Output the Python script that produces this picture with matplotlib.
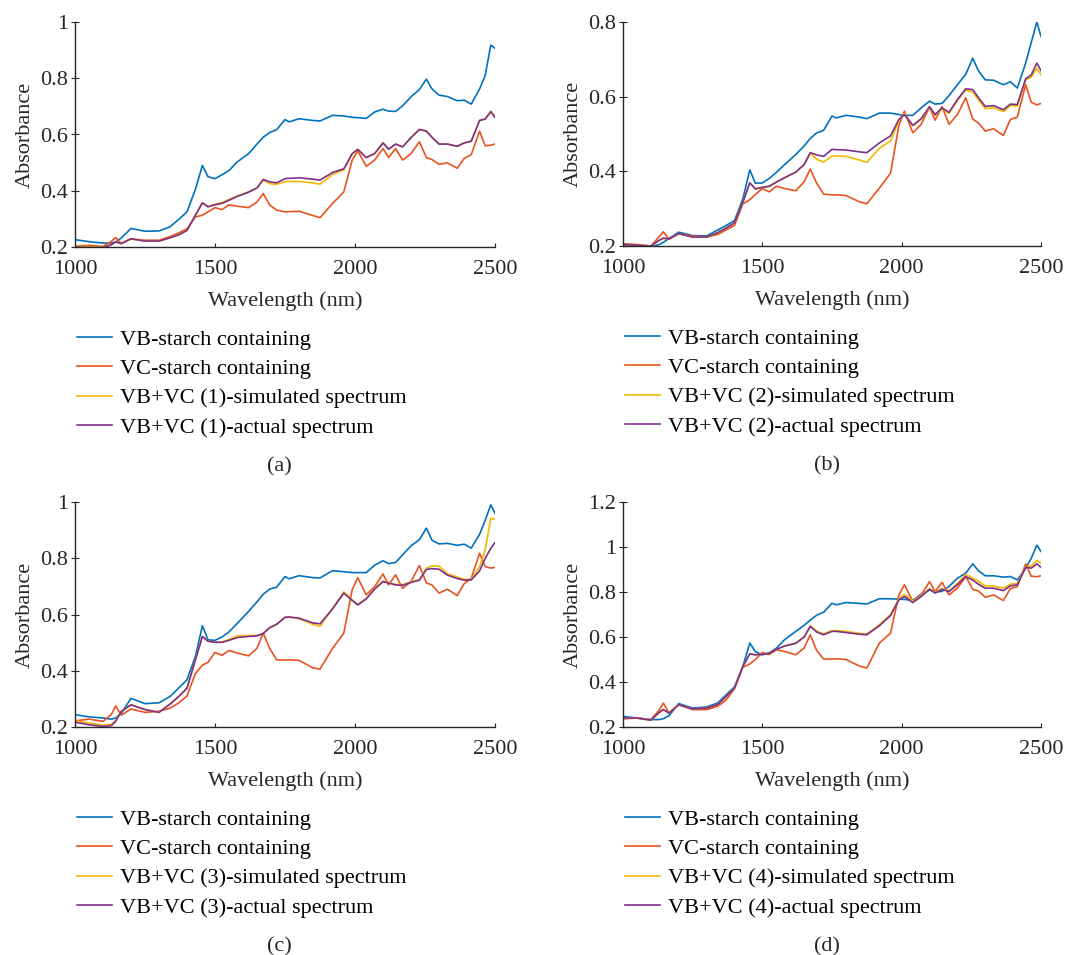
import numpy as np
import matplotlib.pyplot as plt

plt.rcParams['font.family'] = ['Liberation Serif', 'DejaVu Serif']

# common wavelength grid (nm)
wl = [1000, 1050, 1100, 1130, 1145, 1165, 1200, 1250, 1300, 1340, 1370, 1400,
      1430, 1455, 1475, 1500, 1525, 1550, 1580, 1620, 1650, 1672, 1695, 1720,
      1750, 1765, 1800, 1850, 1875, 1920, 1960, 1990, 2010, 2040, 2070, 2100,
      2120, 2145, 2170, 2200, 2230, 2255, 2275, 2300, 2330, 2365, 2390, 2415,
      2445, 2465, 2485, 2500]

# ---- panel (a)
vb_a = [.226, .219, .214, .214, .218, .232, .266, .256, .257, .272, .298, .325,
        .405, .490, .450, .443, .457, .472, .503, .532, .566, .590, .607, .617,
        .653, .645, .656, .650, .648, .668, .666, .661, .660, .657, .680, .690,
        .683, .682, .702, .734, .760, .797, .762, .740, .735, .720, .722, .708,
        .762, .810, .918, .906]
vc_a = [.204, .206, .202, .220, .234, .213, .229, .224, .224, .237, .250, .265,
        .307, .313, .325, .340, .333, .350, .345, .340, .360, .390, .350, .331,
        .325, .326, .327, .312, .304, .355, .396, .509, .542, .487, .509, .550,
        .518, .550, .509, .532, .574, .518, .511, .494, .499, .480, .515, .528,
        .612, .560, .562, .566]
sim_a = [.203, .201, .199, .208, .218, .212, .229, .221, .221, .233, .243, .259,
         .313, .357, .343, .352, .358, .369, .382, .396, .410, .438, .425, .423,
         .432, .433, .433, .428, .423, .458, .474, .532, .547, .518, .532, .570,
         .548, .566, .556, .589, .618, .612, .590, .566, .566, .558, .570, .576,
         .650, .655, .683, .665]
act_a = [.200, .198, .198, .208, .218, .212, .229, .221, .221, .233, .243, .259,
         .313, .357, .343, .350, .355, .366, .380, .395, .410, .440, .432, .428,
         .443, .444, .446, .441, .438, .465, .478, .532, .547, .518, .532, .570,
         .548, .566, .556, .589, .618, .612, .590, .566, .566, .558, .570, .576,
         .650, .655, .681, .661]

# ---- panel (b)
vb_b = [.202, .200, .197, .204, .210, .220, .237, .228, .227, .243, .255, .268,
        .326, .404, .368, .369, .381, .397, .418, .445, .468, .488, .503, .510,
        .548, .543, .550, .545, .541, .556, .556, .552, .550, .550, .570, .588,
        .580, .582, .603, .632, .660, .703, .670, .645, .644, .632, .640, .623,
        .690, .745, .800, .761]
vc_b = [.206, .204, .200, .225, .238, .218, .233, .227, .224, .231, .243, .255,
        .313, .324, .338, .354, .345, .360, .354, .348, .372, .406, .368, .339,
        .337, .337, .335, .318, .313, .355, .395, .523, .561, .503, .526, .572,
        .537, .573, .526, .552, .597, .540, .530, .508, .514, .496, .539, .545,
        .632, .585, .578, .582]
sim_b = [.204, .202, .200, .215, .221, .219, .233, .224, .224, .236, .248, .262,
         .317, .369, .353, .357, .360, .371, .383, .398, .418, .448, .432, .425,
         .441, .441, .440, .430, .424, .462, .481, .535, .555, .522, .540, .572,
         .550, .568, .555, .590, .618, .612, .592, .568, .570, .560, .576, .575,
         .645, .652, .676, .659]
act_b = [.204, .202, .200, .215, .221, .219, .233, .224, .224, .236, .248, .262,
         .317, .369, .353, .357, .360, .371, .383, .398, .418, .450, .444, .440,
         .459, .458, .457, .452, .450, .476, .495, .539, .552, .523, .541, .573,
         .552, .570, .558, .592, .621, .619, .598, .574, .576, .565, .580, .579,
         .648, .658, .690, .670]

# ---- panel (c)
vb_c = [.244, .236, .232, .228, .232, .248, .302, .283, .286, .309, .338, .368,
        .451, .560, .510, .508, .520, .538, .569, .611, .645, .672, .690, .697,
        .735, .727, .738, .731, .730, .756, .752, .749, .749, .749, .775, .791,
        .781, .785, .812, .844, .866, .907, .864, .851, .853, .846, .850, .836,
        .885, .935, .990, .960]
vc_c = [.222, .228, .220, .245, .275, .242, .264, .252, .256, .267, .285, .310,
        .390, .420, .430, .465, .455, .472, .463, .453, .480, .534, .480, .439,
        .438, .439, .437, .410, .406, .480, .534, .688, .731, .670, .699, .744,
        .705, .741, .693, .717, .774, .712, .705, .676, .690, .667, .710, .728,
        .818, .770, .765, .768]
sim_c = [.222, .214, .207, .210, .222, .255, .279, .262, .252, .282, .308, .338,
         .439, .522, .505, .501, .503, .511, .524, .525, .526, .532, .553, .565,
         .590, .591, .585, .565, .558, .622, .680, .652, .636, .657, .692, .719,
         .714, .707, .706, .716, .724, .765, .773, .772, .745, .733, .725, .725,
         .770, .830, .942, .938]
act_c = [.217, .208, .202, .205, .220, .255, .279, .262, .252, .282, .308, .338,
         .439, .522, .505, .501, .501, .508, .518, .522, .524, .532, .553, .565,
         .590, .591, .587, .570, .567, .620, .676, .650, .634, .655, .690, .717,
         .712, .705, .704, .714, .722, .760, .763, .761, .740, .728, .722, .723,
         .755, .800, .835, .856]

# ---- panel (d)
vb_d = [.247, .240, .233, .233, .237, .250, .304, .284, .289, .307, .343, .378,
        .469, .573, .535, .521, .530, .550, .588, .625, .652, .675, .697, .710,
        .750, .743, .753, .749, .747, .770, .770, .768, .767, .763, .790, .809,
        .800, .803, .825, .861, .884, .925, .895, .872, .872, .866, .869, .854,
        .905, .950, 1.008, .980]
vc_d = [.236, .240, .233, .275, .306, .262, .299, .277, .277, .292, .320, .370,
        .465, .480, .500, .531, .522, .543, .536, .521, .551, .610, .540, .502,
        .502, .503, .500, .470, .462, .573, .617, .787, .832, .758, .787, .846,
        .802, .843, .787, .817, .869, .812, .805, .777, .787, .762, .815, .824,
        .925, .870, .868, .872]
sim_d = [.240, .240, .230, .265, .277, .262, .299, .280, .284, .300, .335, .373,
         .469, .525, .521, .523, .527, .545, .560, .572, .600, .650, .626, .614,
         .628, .628, .625, .616, .613, .655, .700, .770, .790, .758, .783, .815,
         .798, .815, .806, .838, .878, .862, .848, .827, .827, .817, .835, .838,
         .912, .916, .940, .928]
act_d = [.240, .240, .230, .265, .277, .262, .299, .280, .284, .300, .335, .373,
         .469, .525, .521, .523, .527, .545, .560, .572, .600, .647, .622, .610,
         .625, .625, .620, .612, .610, .650, .695, .765, .780, .753, .780, .812,
         .795, .812, .802, .832, .869, .853, .835, .817, .817, .806, .827, .832,
         .910, .906, .925, .910]

panels = [
    ('(a)', '1', vb_a, vc_a, sim_a, act_a, (0.2, 1.0), [0.2, 0.4, 0.6, 0.8, 1.0]),
    ('(b)', '2', vb_b, vc_b, sim_b, act_b, (0.2, 0.8), [0.2, 0.4, 0.6, 0.8]),
    ('(c)', '3', vb_c, vc_c, sim_c, act_c, (0.2, 1.0), [0.2, 0.4, 0.6, 0.8, 1.0]),
    ('(d)', '4', vb_d, vc_d, sim_d, act_d, (0.2, 1.2), [0.2, 0.4, 0.6, 0.8, 1.0, 1.2]),
]

colors = ['#0072BD', '#E8531F', '#F5B800', '#7E2F8E']

W, H = 1084, 955
fig = plt.figure(figsize=(W / 100, H / 100), dpi=100)

# axes boxes in pixels: left, top, right, bottom
boxes = [(75, 22, 495, 247), (623, 22, 1041, 246),
         (75, 502, 495, 727), (623, 502, 1041, 727)]

for (tag, n, vb, vc, sim, act, ylim, yt), (l, t, r, b) in zip(panels, boxes):
    ax = fig.add_axes([l / W, 1 - b / H, (r - l) / W, (b - t) / H])
    h1, = ax.plot(wl, vb, color=colors[0], lw=1.2)
    h2, = ax.plot(wl, vc, color=colors[1], lw=1.2)
    h3, = ax.plot(wl, sim, color=colors[2], lw=1.2)
    h4, = ax.plot(wl, act, color=colors[3], lw=1.2)
    ax.set_xlim(1000, 2500)
    ax.set_ylim(*ylim)
    ax.set_xticks([1000, 1500, 2000, 2500])
    ax.set_yticks(yt)
    ax.set_yticklabels(['%g' % v for v in yt])
    for s in ['top', 'right']:
        ax.spines[s].set_visible(False)
    for s in ['left', 'bottom']:
        ax.spines[s].set_linewidth(1.0)
        ax.spines[s].set_color('#262626')
    ax.tick_params(axis='y', direction='inout', length=6, width=0.8,
                   labelsize=16, colors='#262626', pad=2)
    ax.tick_params(axis='x', direction='in', length=3, width=0.8,
                   labelsize=16, colors='#262626', pad=9)
    ax.set_xlabel('Wavelength (nm)', fontsize=16, color='#262626', labelpad=9)
    ax.set_ylabel('Absorbance', fontsize=16, color='#262626', labelpad=4)

    labels = ['VB-starch containing', 'VC-starch containing',
              'VB+VC (%s)-simulated spectrum' % n, 'VB+VC (%s)-actual spectrum' % n]
    fig.legend([h1, h2, h3, h4], labels, loc='upper left',
               bbox_to_anchor=((l + 2) / W, 1 - (b + 82) / H),
               frameon=False, fontsize=16, handlelength=1.58,
               handletextpad=0.36, labelspacing=0.40, borderaxespad=0,
               borderpad=0)
    fig.text((l + r) / 2 / W - 0.005, 1 - (b + 220) / H, tag, fontsize=16,
             ha='center', va='center', color='#262626')

fig.savefig('out.png', dpi=100)
